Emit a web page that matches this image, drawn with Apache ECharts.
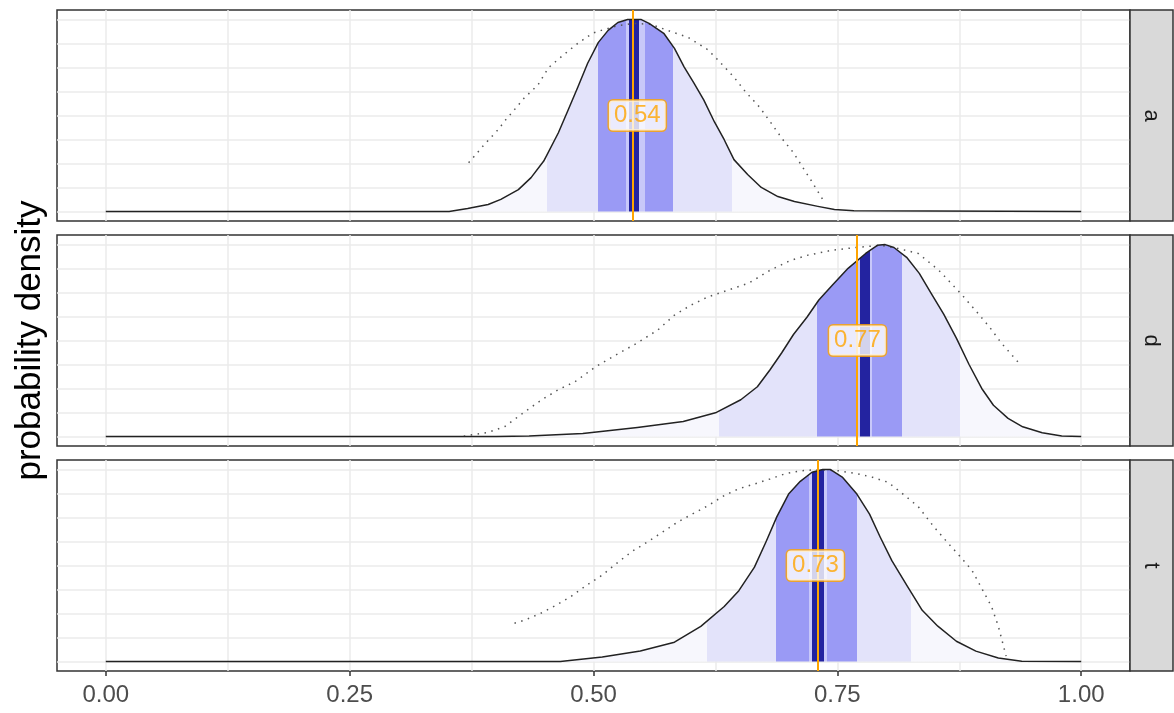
<!DOCTYPE html>
<html><head><meta charset="utf-8">
<script src="https://cdn.jsdelivr.net/npm/echarts@6/dist/echarts.min.js"></script>
<style>html,body{margin:0;padding:0;background:#fff}#c{width:1174px;height:713px}</style>
</head><body><div id="c"></div>
<script>
// ---------- data ----------
const facets = ['a', 'd', 't'];
const xTickValues = [0, 0.25, 0.5, 0.75, 1];
const xGridValues = [0, 0.125, 0.25, 0.375, 0.5, 0.625, 0.75, 0.875, 1];
const yGridValues = [0, 1, 2, 3, 4, 5, 6, 7, 8];

// posterior density (solid)
const aX = [0, 0.352, 0.371, 0.392, 0.405, 0.423, 0.436, 0.449, 0.464, 0.474, 0.484, 0.494, 0.505, 0.515, 0.525, 0.535, 0.549, 0.557, 0.572, 0.583, 0.593, 0.603, 0.613, 0.624, 0.634, 0.644, 0.658, 0.672, 0.689, 0.706, 0.730, 0.747, 0.767, 1.0];
const aY = [0, 0, 0.12, 0.29, 0.50, 0.91, 1.41, 2.10, 3.28, 4.23, 5.19, 6.18, 7.05, 7.55, 7.88, 8.0, 8.0, 7.84, 7.43, 6.8, 6.02, 5.35, 4.65, 3.73, 2.99, 2.16, 1.54, 1.0, 0.62, 0.41, 0.21, 0.08, 0.03, 0];
const dX = [0, 0.40, 0.434, 0.489, 0.545, 0.592, 0.626, 0.651, 0.668, 0.681, 0.693, 0.705, 0.719, 0.731, 0.745, 0.761, 0.779, 0.791, 0.799, 0.808, 0.821, 0.834, 0.846, 0.859, 0.872, 0.885, 0.898, 0.910, 0.925, 0.940, 0.960, 0.980, 1.0];
const dY = [0, 0, 0.02, 0.12, 0.37, 0.62, 1.0, 1.53, 2.07, 2.78, 3.49, 4.25, 4.98, 5.69, 6.31, 7.01, 7.63, 7.97, 8.0, 7.88, 7.47, 6.8, 5.98, 5.1, 4.1, 3.0, 2.0, 1.3, 0.75, 0.4, 0.15, 0.02, 0];
const tX = [0, 0.466, 0.509, 0.548, 0.583, 0.610, 0.634, 0.649, 0.665, 0.677, 0.688, 0.700, 0.712, 0.724, 0.735, 0.743, 0.755, 0.770, 0.783, 0.794, 0.806, 0.822, 0.837, 0.853, 0.872, 0.892, 0.915, 0.939, 1.0];
const tY = [0, 0, 0.18, 0.43, 0.80, 1.46, 2.29, 2.95, 3.93, 5.0, 6.04, 6.98, 7.51, 7.89, 8.0, 8.0, 7.69, 6.98, 6.14, 5.18, 4.19, 3.12, 2.13, 1.47, 0.84, 0.43, 0.14, 0.01, 0];

// comparison density (dotted)
const aPX = [0.372, 0.381, 0.387, 0.402, 0.410, 0.417, 0.429, 0.443, 0.454, 0.469, 0.484, 0.499, 0.508, 0.525, 0.542, 0.559, 0.576, 0.597, 0.617, 0.628, 0.644, 0.656, 0.670, 0.682, 0.694, 0.705, 0.716, 0.723, 0.730, 0.735];
const aPY = [2.03, 2.45, 2.74, 3.40, 3.82, 4.15, 4.73, 5.27, 6.0, 6.52, 7.01, 7.43, 7.55, 7.75, 7.84, 7.80, 7.55, 7.26, 6.75, 6.3, 5.6, 4.98, 4.36, 3.69, 3.00, 2.45, 1.74, 1.3, 0.83, 0.5];
const dPX = [0.367, 0.392, 0.409, 0.430, 0.447, 0.464, 0.481, 0.502, 0.523, 0.545, 0.566, 0.583, 0.600, 0.617, 0.638, 0.659, 0.681, 0.702, 0.719, 0.744, 0.769, 0.795, 0.812, 0.833, 0.854, 0.876, 0.893, 0.906, 0.918, 0.935];
const dPY = [0.01, 0.17, 0.41, 1.04, 1.53, 1.95, 2.28, 2.90, 3.40, 3.90, 4.44, 5.06, 5.48, 5.81, 6.10, 6.39, 6.93, 7.34, 7.55, 7.76, 7.88, 7.97, 7.84, 7.63, 6.93, 5.98, 5.19, 4.56, 3.90, 3.11];
const tPX = [0.419, 0.430, 0.446, 0.462, 0.477, 0.493, 0.509, 0.524, 0.540, 0.556, 0.571, 0.587, 0.602, 0.618, 0.634, 0.649, 0.665, 0.681, 0.696, 0.712, 0.731, 0.751, 0.771, 0.786, 0.802, 0.817, 0.833, 0.849, 0.864, 0.876, 0.888, 0.899, 0.908, 0.915, 0.923];
const tPY = [1.59, 1.73, 2.01, 2.35, 2.71, 3.18, 3.6, 4.1, 4.6, 5.0, 5.4, 5.83, 6.16, 6.51, 6.92, 7.20, 7.40, 7.61, 7.82, 7.95, 8.0, 7.95, 7.82, 7.68, 7.47, 6.99, 6.45, 5.61, 4.91, 4.37, 3.80, 2.97, 2.29, 1.47, 0.22];

// intervals
const outerIntervals = [[0.452, 0.642], [0.6285, 0.8753], [0.6162, 0.8260]];
const innerIntervals = [[0.505, 0.582], [0.7295, 0.8164], [0.6873, 0.7706]];
const gapIntervals = [[0.5336, 0.5525], [0.7700, 0.7855], [0.7206, 0.7390]];
const centerIntervals = [[0.5367, 0.5465], [0.7727, 0.7834], [0.7245, 0.7360]];
const medians = [0.5449, 0.7706, 0.7275];
const medianLabels = ['0.54', '0.77', '0.73'];
const labelHeights = [4, 4, 4];
const densityX = [aX, dX, tX], densityY = [aY, dY, tY];
const compareX = [aPX, dPX, tPX], compareY = [aPY, dPY, tPY];

// ---------- chart ----------
const FONT = "'Liberation Sans', Arial, sans-serif";
const panelTops = [10, 235, 460], panelH = 211, L = 57, R = 44;
const zip = (xs, ys) => xs.map((x, i) => [x, ys[i]]);
const C = { faint: '#f7f7fd', light: '#e3e3fa', gap: '#c8c8f9', mid: '#9a9af5', navy: '#2323a0', orange: '#ffa500' };

const grid = [], xAxis = [], yAxis = [], series = [], visualMap = [], graphic = [];
facets.forEach((f, i) => {
  grid.push({ left: L, right: R, top: panelTops[i], height: panelH, show: true,
    borderColor: '#333', borderWidth: 1.5, backgroundColor: '#fff' });
  xAxis.push({ type: 'value', gridIndex: i, min: -0.05, max: 1.05,
    axisLine: { show: false }, axisTick: { show: false, customValues: xGridValues },
    axisLabel: { show: false }, splitLine: { show: true, lineStyle: { color: '#ebebeb', width: 1.5 } } });
  yAxis.push({ type: 'value', gridIndex: i, min: -0.4, max: 8.4,
    axisLine: { show: false }, axisTick: { show: false, customValues: yGridValues },
    axisLabel: { show: false }, splitLine: { show: true, lineStyle: { color: '#ebebeb', width: 1.5 } },
    name: i === 1 ? 'probability density' : '', nameLocation: 'middle', nameGap: 9,
    nameTextStyle: { fontSize: 35, color: '#000', fontFamily: FONT } });
  const dens = zip(densityX[i], densityY[i]);
  const areaIdx = series.length;
  series.push({ type: 'line', xAxisIndex: i, yAxisIndex: i, data: dens, showSymbol: false,
    silent: true, z: 2, lineStyle: { width: 0, opacity: 0 }, areaStyle: { opacity: 1 } });
  series.push({ type: 'line', xAxisIndex: i, yAxisIndex: i, data: zip(compareX[i], compareY[i]),
    showSymbol: false, silent: true, z: 3, lineStyle: { color: '#555', width: 1.5, type: [1.5, 5.5] } });
  series.push({ type: 'line', xAxisIndex: i, yAxisIndex: i, data: dens, showSymbol: false, silent: true, z: 4,
    lineStyle: { color: '#222', width: 1.5, join: 'round' },
    markLine: { silent: true, symbol: ['none', 'none'], z: 5, label: { show: false },
      lineStyle: { color: C.orange, width: 2, type: 'solid' }, data: [{ xAxis: medians[i] }] } });
  series.push({ type: 'scatter', xAxisIndex: i, yAxisIndex: i, data: [[medians[i], labelHeights[i]]],
    symbolSize: 0, silent: true, z: 10,
    label: { show: true, position: 'inside', formatter: () => medianLabels[i], color: C.orange,
      fontSize: 24, fontFamily: FONT, backgroundColor: '#fff', borderColor: C.orange, borderWidth: 1.5,
      borderRadius: 4, padding: [4, 5, 2, 5] } });
  const o = outerIntervals[i], m = innerIntervals[i], g = gapIntervals[i], c = centerIntervals[i];
  visualMap.push({ type: 'piecewise', show: false, dimension: 0, seriesIndex: areaIdx,
    pieces: [
      { gte: o[0], lt: m[0], color: C.light },
      { gte: m[0], lt: g[0], color: C.mid },
      { gte: g[0], lt: c[0], color: C.gap },
      { gte: c[0], lt: c[1], color: C.navy },
      { gte: c[1], lt: g[1], color: C.gap },
      { gte: g[1], lt: m[1], color: C.mid },
      { gte: m[1], lt: o[1], color: C.light }
    ], outOfRange: { color: C.faint } });
  graphic.push({ type: 'rect', shape: { x: 1130, y: panelTops[i], width: 43, height: panelH },
    style: { fill: '#d9d9d9', stroke: '#333', lineWidth: 1.5 }, z: 100 });
  graphic.push({ type: 'text', x: 1151.5, y: panelTops[i] + panelH / 2, rotation: -Math.PI / 2, z: 101,
    style: { text: f, fontSize: 22, fontFamily: FONT, fill: '#1a1a1a', align: 'center', verticalAlign: 'middle' } });
});
// bottom tick labels
xAxis.push({ type: 'value', gridIndex: 2, min: -0.05, max: 1.05, position: 'bottom',
  axisLine: { show: false }, splitLine: { show: false },
  axisTick: { show: true, length: 5, customValues: xTickValues, lineStyle: { color: '#333', width: 1.5 } },
  axisLabel: { show: true, customValues: xTickValues, margin: 12, color: '#4d4d4d', fontSize: 24, fontFamily: FONT,
    formatter: v => v.toFixed(2) } });

const chart = echarts.init(document.getElementById('c'), null, { renderer: 'canvas' });
chart.setOption({ animation: false, backgroundColor: '#fff', textStyle: { fontFamily: FONT },
  grid, xAxis, yAxis, series, visualMap, graphic });
</script></body></html>
